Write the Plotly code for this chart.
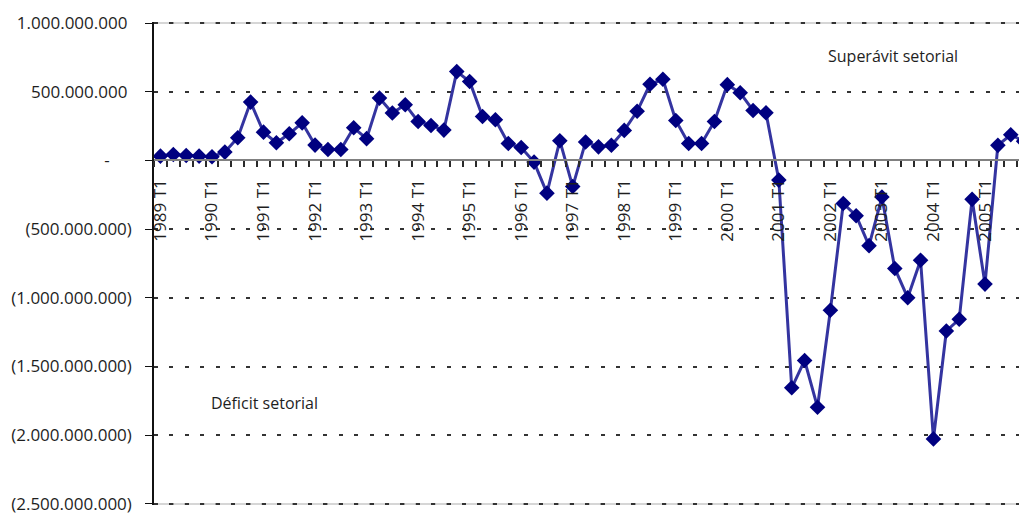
import plotly.graph_objects as go

# Quarterly categories, 1989 T1 .. 2005 T4
trimestres = [f"{ano} T{t}" for ano in range(1989, 2006) for t in range(1, 5)]

# Sector balance per quarter, in millions
saldo_milhoes = [
    32, 44, 36, 32, 27, 61, 165, 425,
    206, 129, 194, 274, 112, 80, 80, 238,
    159, 454, 346, 406, 284, 255, 221, 647,
    575, 320, 296, 123, 94, -12, -238, 144,
    -190, 135, 99, 111, 219, 358, 555, 591,
    291, 123, 123, 284, 552, 493, 364, 347,
    -143, -1655, -1456, -1796, -1090, -313, -402, -620,
    -266, -786, -999, -726, -2027, -1241, -1156, -283,
    -900, 110, 187, 140,
]
saldo = [v * 1_000_000 for v in saldo_milhoes]

# Category labels: only the first quarter of each year is written
rotulos_x = [q if q.endswith("T1") else "" for q in trimestres]

# Value axis ticks and accounting-style labels
valores_y = [1e9, 5e8, 0, -5e8, -1e9, -1.5e9, -2e9, -2.5e9]
NB = "\u00a0"
rotulos_y = [
    "1.000.000.000" + NB,
    "500.000.000" + NB,
    "-" + NB * 5,
    "(500.000.000)",
    "(1.000.000.000)",
    "(1.500.000.000)",
    "(2.000.000.000)",
    "(2.500.000.000)",
]

FONTE = "Open Sans"
COR_TEXTO = "#1e1e1e"
TRACO = "4px,11.4px"

# Value range padded slightly so the outer gridlines stay inside the plot
y_min, y_max = -2.5e9, 1e9
folga = 0.008e9

fig = go.Figure(
    go.Scatter(
        x=trimestres,
        y=saldo,
        mode="lines+markers",
        line=dict(color="#3434a0", width=3),
        marker=dict(symbol="diamond", size=12, color="#000080", line=dict(width=0)),
        cliponaxis=True,
        showlegend=False,
    )
)

fig.update_layout(
    width=1019,
    height=516,
    margin=dict(l=154, r=0, t=22, b=11, autoexpand=False),
    paper_bgcolor="white",
    plot_bgcolor="white",
    font=dict(family=FONTE, size=16, color=COR_TEXTO),
    xaxis=dict(
        type="category",
        range=[-0.5, 66.64],
        tickmode="array",
        tickvals=trimestres,
        ticktext=rotulos_x,
        tickangle=-90,
        tickson="boundaries",
        ticks="outside",
        ticklen=6,
        tickwidth=1.5,
        tickcolor="#2a2a2a",
        ticklabelstandoff=11,
        tickfont=dict(family=FONTE, size=17, color=COR_TEXTO),
        showline=True,
        linecolor="#808080",
        linewidth=2,
        showgrid=False,
        zeroline=False,
        anchor="free",
        position=(0 - (y_min - folga)) / ((y_max + folga) - (y_min - folga)),
        automargin=False,
    ),
    yaxis=dict(
        range=[y_min - folga, y_max + folga],
        tickmode="array",
        tickvals=valores_y,
        ticktext=rotulos_y,
        ticks="outside",
        ticklen=7,
        tickwidth=1,
        tickcolor="#111111",
        ticklabelstandoff=10,
        ticklabeloverflow="allow",
        tickfont=dict(family=FONTE, size=17, color=COR_TEXTO),
        showline=True,
        linecolor="#111111",
        linewidth=1.5,
        showgrid=True,
        gridcolor="#333333",
        gridwidth=2,
        griddash=TRACO,
        zeroline=False,
        automargin=False,
    ),
    shapes=[
        # light frame lines at the top and bottom of the plot area
        dict(type="line", xref="paper", yref="y", x0=0, x1=1, y0=y_max, y1=y_max,
             line=dict(color="#c8c8c8", width=1.5), layer="below"),
        dict(type="line", xref="paper", yref="y", x0=0, x1=1, y0=y_min, y1=y_min,
             line=dict(color="#c8c8c8", width=1.5), layer="below"),
        # dashed lines on the outer ticks
        dict(type="line", xref="paper", yref="y", x0=0, x1=1, y0=y_max, y1=y_max,
             line=dict(color="#333333", width=2, dash=TRACO), layer="below"),
        dict(type="line", xref="paper", yref="y", x0=0, x1=1, y0=y_min, y1=y_min,
             line=dict(color="#333333", width=2, dash=TRACO), layer="below"),
    ],
    annotations=[
        dict(text="Superávit setorial", xref="paper", yref="paper",
             x=0.8543, y=0.9296, xanchor="center", yanchor="middle", showarrow=False,
             font=dict(family=FONTE, size=16, color=COR_TEXTO)),
        dict(text="Déficit setorial", xref="paper", yref="paper",
             x=0.1274, y=0.2112, xanchor="center", yanchor="middle", showarrow=False,
             font=dict(family=FONTE, size=16, color=COR_TEXTO)),
    ],
)

fig.write_html("out.html")
